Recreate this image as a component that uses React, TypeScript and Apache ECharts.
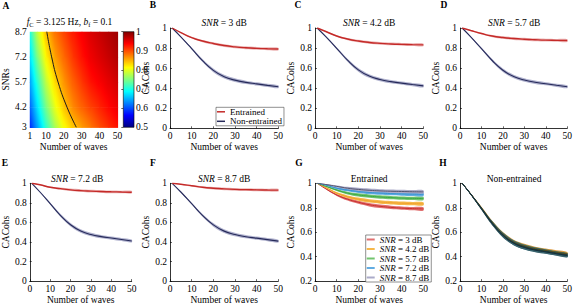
import React, { useEffect, useRef } from "react";
import * as echarts from "echarts";

const FONT = "'Liberation Serif', 'Times New Roman', serif";

// ---- shared x grid (number of waves) ----
const waves = [1, 5, 10, 15, 20, 25, 30, 35, 40, 45, 50];

// ---- panel A: heatmap rows (SNR levels) ----
const heatSnr = [3, 4.2, 5.7, 7.2, 8.7];
const heatRow3 = [0.58, 0.64, 0.71, 0.77, 0.81, 0.84, 0.86, 0.88, 0.9, 0.915, 0.93];
const heatRow42 = [0.61, 0.67, 0.745, 0.8, 0.84, 0.87, 0.89, 0.905, 0.92, 0.935, 0.945];
const heatRow57 = [0.64, 0.705, 0.78, 0.83, 0.865, 0.89, 0.91, 0.93, 0.94, 0.95, 0.96];
const heatRow72 = [0.67, 0.745, 0.815, 0.86, 0.885, 0.91, 0.93, 0.945, 0.955, 0.965, 0.975];
const heatRow87 = [0.7, 0.78, 0.845, 0.88, 0.905, 0.925, 0.94, 0.955, 0.965, 0.975, 0.985];
const contourWaves = [10.5, 13.2, 16.8, 21.8, 27];
const contourSnr = [8.7, 7.2, 5.7, 4.2, 3];
const heatXTicks = [1, 10, 20, 30, 40, 50];
const heatYTicks = [3, 4.2, 5.7, 7.2, 8.7];

// ---- entrained CACohs per SNR ----
const ent3 = [1.0, 0.955, 0.905, 0.87, 0.845, 0.825, 0.812, 0.803, 0.797, 0.793, 0.79];
const ent42 = [1.0, 0.965, 0.92, 0.89, 0.87, 0.856, 0.847, 0.841, 0.837, 0.834, 0.832];
const ent57 = [1.0, 0.975, 0.945, 0.92, 0.905, 0.895, 0.888, 0.883, 0.879, 0.877, 0.875];
const ent72 = [1.0, 0.985, 0.96, 0.945, 0.933, 0.925, 0.92, 0.916, 0.913, 0.911, 0.909];
const ent87 = [1.0, 0.99, 0.975, 0.96, 0.95, 0.943, 0.938, 0.935, 0.933, 0.931, 0.93];
const entBand = [0, 0.004, 0.008, 0.011, 0.013, 0.014, 0.014, 0.014, 0.014, 0.014, 0.014];

// ---- non-entrained CACohs per SNR ----
const ne3 = [1.0, 0.912, 0.795, 0.675, 0.578, 0.515, 0.48, 0.458, 0.443, 0.428, 0.414];
const ne42 = [1.0, 0.913, 0.798, 0.679, 0.583, 0.521, 0.487, 0.465, 0.45, 0.436, 0.423];
const ne57 = [1.0, 0.912, 0.795, 0.676, 0.579, 0.516, 0.481, 0.459, 0.444, 0.429, 0.415];
const ne72 = [1.0, 0.911, 0.793, 0.673, 0.576, 0.512, 0.477, 0.455, 0.44, 0.425, 0.41];
const ne87 = [1.0, 0.911, 0.792, 0.672, 0.575, 0.511, 0.476, 0.454, 0.439, 0.424, 0.409];
const neBand = [0, 0.004, 0.01, 0.015, 0.018, 0.018, 0.018, 0.017, 0.016, 0.016, 0.015];

const snrNames = ["SNR = 3 dB", "SNR = 4.2 dB", "SNR = 5.7 dB", "SNR = 7.2 dB", "SNR = 8.7 dB"];
const snrTitles = ["3", "4.2", "5.7", "7.2", "8.7"];

// ---- style constants ----
const RED = "#c42a28";
const NAVY = "#262a5a";
const NAVY_BAND = "rgba(150,152,190,0.75)";
const RED_BAND = "rgba(220,110,110,0.5)";
const G_BAND = ["#e07070", "#f6b84a", "#72c46e", "#62ace2", "#ababc9"];
const G_LINE = ["#c8302c", "#f0a22e", "#3aa845", "#3a92d2", "#55556f"];
const H_BAND = ["rgba(200,90,60,0.8)", "rgba(215,140,40,0.85)", "rgba(60,120,90,0.85)", "rgba(50,110,130,0.85)", "rgba(55,95,105,0.85)"];
const H_LINE = ["#5a2a20", "#6a4a10", "#1a4a35", "#1a3f55", "#18303a"];

function jet(v: number): string {
  const t = Math.min(1, Math.max(0, (v - 0.5) / 0.5));
  const c = (x: number) => Math.round(255 * Math.min(1, Math.max(0, x)));
  return `rgb(${c(1.5 - Math.abs(4 * t - 3))},${c(1.5 - Math.abs(4 * t - 2))},${c(1.5 - Math.abs(4 * t - 1))})`;
}

const grids = [
  { left: 22, top: 31.7, width: 95.5, height: 95.6 }, // A heatmap
  { left: 123.3, top: 31.7, width: 10.7, height: 95.6 }, // colorbar
  { left: 170, top: 28, width: 108.3, height: 100.3 }, // B
  { left: 315, top: 28, width: 108.3, height: 100.3 }, // C
  { left: 460, top: 28, width: 108.3, height: 100.3 }, // D
  { left: 22.7, top: 183.3, width: 109, height: 101.7 }, // E
  { left: 170, top: 183.3, width: 108.3, height: 101.7 }, // F
  { left: 315, top: 183.3, width: 108.3, height: 101.7 }, // G
  { left: 460, top: 183.3, width: 108.3, height: 101.7 }, // H
];

const baseText = { color: "#000", fontFamily: FONT, fontSize: 9.5 };

function lineX(gi: number) {
  return {
    type: "value", gridIndex: gi, min: 0, max: 50, interval: 10,
    axisLine: { lineStyle: { color: "#000", width: 0.8 } },
    axisTick: { inside: true, length: 2, lineStyle: { color: "#000", width: 0.6 } },
    axisLabel: { ...baseText, margin: 3 },
    splitLine: { show: false },
    name: "Number of waves", nameLocation: "middle", nameGap: 12,
    nameTextStyle: { ...baseText },
  };
}
function lineY(gi: number, min: number, gap: number) {
  return {
    type: "value", gridIndex: gi, min, max: 1, interval: 0.2,
    axisLine: { lineStyle: { color: "#000", width: 0.8 } },
    axisTick: { inside: true, length: 2, lineStyle: { color: "#000", width: 0.6 } },
    axisLabel: { ...baseText, margin: 3 },
    splitLine: { show: false },
    name: "CACohs", nameLocation: "middle", nameGap: gap, nameRotate: 90,
    nameTextStyle: { ...baseText },
  };
}

function bandSeries(gi: number, center: number[], hw: number[], color: string, z: number) {
  const hi = center.map((v, i) => v + hw[i]);
  const lo = center.map((v, i) => v - hw[i]);
  return {
    type: "custom", xAxisIndex: gi, yAxisIndex: gi, silent: true, z,
    data: waves.map((w, i) => [w, lo[i], hi[i]]),
    encode: { x: 0, y: [1, 2] },
    renderItem: (params: any, api: any) => {
      if (params.dataIndex !== 0) return null;
      const top = waves.map((w, i) => api.coord([w, hi[i]]));
      const bot = waves.map((w, i) => api.coord([w, lo[i]])).reverse();
      return { type: "polygon", shape: { points: top.concat(bot), smooth: 0.3 }, style: { fill: color } };
    },
  };
}

function lineSeries(gi: number, name: string, vals: number[], color: string, width: number, z: number, legendColor?: string) {
  return {
    type: "line", name, xAxisIndex: gi, yAxisIndex: gi, z,
    data: waves.map((w, i) => [w, vals[i]]),
    smooth: true, symbol: "none", showSymbol: false,
    lineStyle: { color, width },
    itemStyle: { color: legendColor || color },
  };
}

export default function App() {
  const ref = useRef<HTMLDivElement>(null);
  useEffect(() => {
    document.body.style.margin = "0";
    if (!ref.current) return;
    const chart = echarts.init(ref.current, undefined, { renderer: "svg" });

    const heatRows = [heatRow3, heatRow42, heatRow57, heatRow72, heatRow87];
    // one cell between each pair of neighbouring rows and columns, shaded as a plane through its corners
    const cells: number[][] = [];
    for (let r = 0; r < heatRows.length - 1; r++) {
      for (let c = 0; c < waves.length - 1; c++) cells.push([r, c]);
    }

    const series: any[] = [];
    series.push({
      type: "custom", xAxisIndex: 0, yAxisIndex: 0, silent: true, z: 1,
      data: cells,
      renderItem: (params: any, api: any) => {
        const [r, c] = cells[params.dataIndex];
        const pTL = api.coord([waves[c], heatSnr[r + 1]]);
        const pBR = api.coord([waves[c + 1], heatSnr[r]]);
        const W = pBR[0] - pTL[0];
        const H = pBR[1] - pTL[1];
        const a = heatRows[r][c], b = heatRows[r][c + 1], d = heatRows[r + 1][c], e = heatRows[r + 1][c + 1];
        const m = (a + b + d + e) / 4;
        const gx = ((b - a) + (e - d)) / 2 / W; // value per px to the right
        const gy = -((d - a) + (e - b)) / 2 / H; // value per px downward
        const G = Math.hypot(gx, gy);
        const cx = pTL[0] + W / 2, cy = pTL[1] + H / 2;
        let fill: any = jet(m);
        if (G > 1e-9) {
          const ux = gx / G, uy = gy / G;
          const s = Math.abs(ux) * W / 2 + Math.abs(uy) * H / 2 + 1;
          const stops = [];
          for (let k = 0; k <= 6; k++) {
            const f = k / 6;
            stops.push({ offset: f, color: jet(m + G * s * (2 * f - 1)) });
          }
          fill = new echarts.graphic.LinearGradient(cx - ux * s, cy - uy * s, cx + ux * s, cy + uy * s, stops, true);
        }
        return {
          type: "rect",
          shape: { x: pTL[0], y: pTL[1], width: W + 0.6, height: H + 0.6 },
          style: { fill },
        };
      },
    });
    series.push({
      type: "line", xAxisIndex: 0, yAxisIndex: 0, z: 5, smooth: true, symbol: "none",
      data: contourWaves.map((w, i) => [w, contourSnr[i]]),
      lineStyle: { color: "#1a1a1a", width: 1 },
    });
    series.push({
      type: "custom", xAxisIndex: 1, yAxisIndex: 1, silent: true, z: 1,
      data: [[0.5, 0.75]],
      renderItem: (params: any, api: any) => {
        const p0 = api.coord([0, 1]);
        const p1 = api.coord([1, 0.5]);
        const stops = [0, 0.125, 0.375, 0.625, 0.875, 1].map((t) => ({ offset: 1 - t, color: jet(0.5 + 0.5 * t) }));
        stops.sort((a, b) => a.offset - b.offset);
        return {
          type: "rect",
          shape: { x: p0[0], y: p0[1], width: p1[0] - p0[0], height: p1[1] - p0[1] },
          style: { fill: new echarts.graphic.LinearGradient(0, 0, 0, 1, stops), stroke: "#000", lineWidth: 0.6 },
        };
      },
    });

    const entAll = [ent3, ent42, ent57, ent72, ent87];
    const neAll = [ne3, ne42, ne57, ne72, ne87];
    const lineGridIdx = [2, 3, 4, 5, 6];
    lineGridIdx.forEach((gi, k) => {
      series.push(bandSeries(gi, neAll[k], neBand, NAVY_BAND, 2));
      series.push(bandSeries(gi, entAll[k], entBand, RED_BAND, 2));
      series.push(lineSeries(gi, "Non-entrained", neAll[k], NAVY, 1.1, 3));
      series.push(lineSeries(gi, "Entrained", entAll[k], RED, 1.4, 3));
    });
    // G
    entAll.forEach((vals, k) => {
      series.push(bandSeries(7, vals, entBand, G_BAND[k], 2 + k * 0.01));
      series.push(lineSeries(7, snrNames[k], vals, G_LINE[k], 1, 3 + k * 0.01, G_BAND[k]));
    });
    // H
    neAll.forEach((vals, k) => {
      series.push(bandSeries(8, vals, neBand, H_BAND[k], 2 + k * 0.01));
      series.push(lineSeries(8, "h" + k, vals, H_LINE[k], 1, 3 + k * 0.01));
    });

    const xAxes: any[] = [
      {
        type: "value", gridIndex: 0, min: 1, max: 50,
        axisLine: { show: false }, axisTick: { show: false }, splitLine: { show: false },
        axisLabel: { ...baseText, margin: 4, customValues: heatXTicks, showMinLabel: true, showMaxLabel: true },
        name: "Number of waves", nameLocation: "middle", nameGap: 11, nameTextStyle: { ...baseText },
      },
      { type: "value", gridIndex: 1, min: 0, max: 1, show: false },
      lineX(2), lineX(3), lineX(4), lineX(5), lineX(6), lineX(7), lineX(8),
    ];
    const yAxes: any[] = [
      {
        type: "value", gridIndex: 0, min: 3, max: 8.7,
        axisLine: { show: false }, axisTick: { show: false }, splitLine: { show: false },
        axisLabel: { ...baseText, margin: 3, customValues: heatYTicks, showMinLabel: true, showMaxLabel: true },
        name: "SNRs", nameLocation: "middle", nameGap: 12, nameRotate: 90, nameTextStyle: { ...baseText },
      },
      {
        type: "value", gridIndex: 1, min: 0.5, max: 1, interval: 0.1, position: "right",
        axisLine: { show: false },
        axisTick: { inside: true, length: 2, lineStyle: { color: "#000", width: 0.6 } },
        axisLabel: { ...baseText, margin: 2 },
        splitLine: { show: false },
      },
      lineY(2, 0, 16), lineY(3, 0, 16), lineY(4, 0, 16), lineY(5, 0, 14), lineY(6, 0, 16), lineY(7, 0.2, 16), lineY(8, 0.2, 16),
    ];

    const italicRich = { i: { fontStyle: "italic", fontSize: 9.5, fontFamily: FONT, color: "#000" } };
    const titleText = (x: number, y: number, text: string) => ({
      type: "text", x, y, silent: true,
      style: { text, rich: italicRich, fontSize: 9.5, fontFamily: FONT, fill: "#000", align: "center", verticalAlign: "middle" },
    });
    const letter = (x: number, y: number, t: string) => ({
      type: "text", x, y, silent: true,
      style: { text: t, fontSize: 9.5, fontWeight: "bold", fontFamily: FONT, fill: "#000", align: "center", verticalAlign: "middle" },
    });
    const graphics: any[] = [
      letter(6, 6, "A"), letter(153, 5, "B"), letter(298, 5, "C"), letter(444, 5, "D"),
      letter(5, 163, "E"), letter(153, 163, "F"), letter(299, 163, "G"), letter(443, 163, "H"),
      {
        type: "text", x: 69.5, y: 22, silent: true,
        style: {
          text: "{i|f}{s|C} = 3.125 Hz, {i|b}{s|f} = 0.1",
          rich: {
            i: { fontStyle: "italic", fontSize: 9.5, fontFamily: FONT, color: "#000" },
            s: { fontSize: 6.5, fontFamily: FONT, color: "#000", padding: [4, 0, 0, 0] },
          },
          fontSize: 9.5, fontFamily: FONT, fill: "#000", align: "center", verticalAlign: "middle",
        },
      },
    ];
    const tops = [23, 23, 23, 179, 179];
    lineGridIdx.forEach((gi, k) => {
      const g = grids[gi];
      graphics.push(titleText(g.left + g.width / 2, tops[k], `{i|SNR} = ${snrTitles[k]} dB`));
    });
    graphics.push(titleText(grids[7].left + grids[7].width / 2, 179, "Entrained"));
    graphics.push(titleText(grids[8].left + grids[8].width / 2, 179, "Non-entrained"));

    const legendText = {
      ...baseText, fontSize: 9,
      rich: { i: { fontStyle: "italic", fontSize: 9, fontFamily: FONT, color: "#000" } },
    };

    chart.setOption({
      animation: false,
      textStyle: { fontFamily: FONT },
      grid: grids.map((g) => ({ ...g, containLabel: false })),
      xAxis: xAxes,
      yAxis: yAxes,
      legend: [
        {
          left: 216, top: 107.3, orient: "vertical", data: ["Entrained", "Non-entrained"],
          icon: "rect", itemWidth: 8, itemHeight: 1.5, itemGap: 0.5,
          borderColor: "#444", borderWidth: 0.6, padding: [0, 2, 0, 1], backgroundColor: "#fff",
          textStyle: legendText, selectedMode: false,
        },
        {
          left: 365.7, top: 235, orient: "vertical", data: snrNames,
          icon: "rect", itemWidth: 8, itemHeight: 2, itemGap: 0.5,
          borderColor: "#444", borderWidth: 0.6, padding: [0, 2, 0, 1], backgroundColor: "#fff",
          textStyle: legendText, selectedMode: false,
          formatter: (name: string) => name.replace("SNR", "{i|SNR}"),
        },
      ],
      graphic: graphics,
      series,
    });
    return () => chart.dispose();
  }, []);
  return <div ref={ref} style={{ width: 575, height: 306 }} />;
}
